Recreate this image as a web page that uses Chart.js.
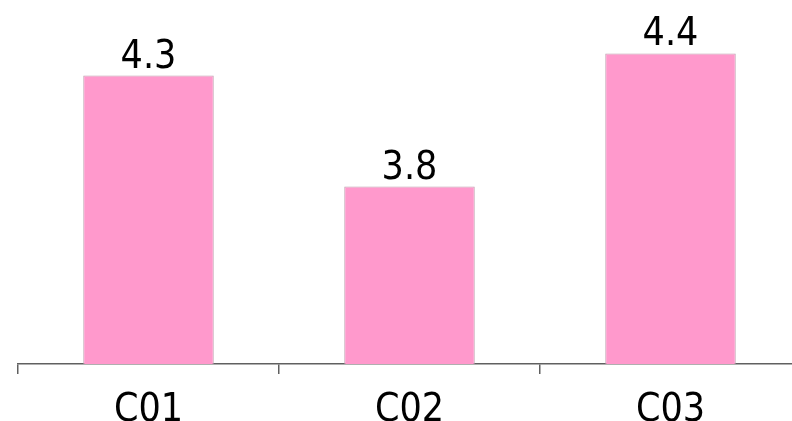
<!DOCTYPE html>
<html>
<head>
<meta charset="utf-8">
<script src="https://cdn.jsdelivr.net/npm/chart.js@4/dist/chart.umd.min.js"></script>
<style>
  html, body { margin: 0; padding: 0; overflow: hidden; background: #fff; }
  canvas { display: block; }
</style>
</head>
<body>
<canvas id="chart" width="810" height="421"></canvas>
<script>
  // chart data
  const categories = ["C01", "C02", "C03"];
  const values = [4.3, 3.8, 4.4];

  // draw the value above each bar
  const valueLabels = {
    id: "valueLabels",
    afterDatasetsDraw(chart) {
      const ctx = chart.ctx;
      const meta = chart.getDatasetMeta(0);
      ctx.save();
      ctx.font = "39px 'DejaVu Sans Condensed'";
      ctx.fillStyle = "#000";
      ctx.textAlign = "center";
      ctx.textBaseline = "alphabetic";
      meta.data.forEach((bar, i) => {
        ctx.fillText(values[i].toFixed(1), bar.x, bar.y - 8);
      });
      ctx.restore();
    }
  };

  new Chart(document.getElementById("chart"), {
    type: "bar",
    data: {
      labels: categories,
      datasets: [{
        data: values,
        backgroundColor: "#FF99CC",
        borderColor: "#C0A0B0",
        borderWidth: 1,
        barPercentage: 0.5,
        categoryPercentage: 1
      }]
    },
    options: {
      responsive: false,
      animation: false,
      layout: { padding: { left: 18, right: 9, top: 9, bottom: 0 } },
      plugins: { legend: { display: false }, tooltip: { enabled: false } },
      scales: {
        x: {
          afterFit(scale) { scale.height = 57; },
          border: { display: true, color: "#606060", width: 1.5 },
          grid: { offset: true, drawOnChartArea: false, drawTicks: true, tickLength: 10, color: "#606060", lineWidth: 1.5 },
          ticks: { color: "#000", font: { family: "DejaVu Sans Condensed", size: 39 }, padding: 13 }
        },
        y: {
          display: false,
          min: 3,
          max: 4.6
        }
      }
    },
    plugins: [valueLabels]
  });
</script>
</body>
</html>
